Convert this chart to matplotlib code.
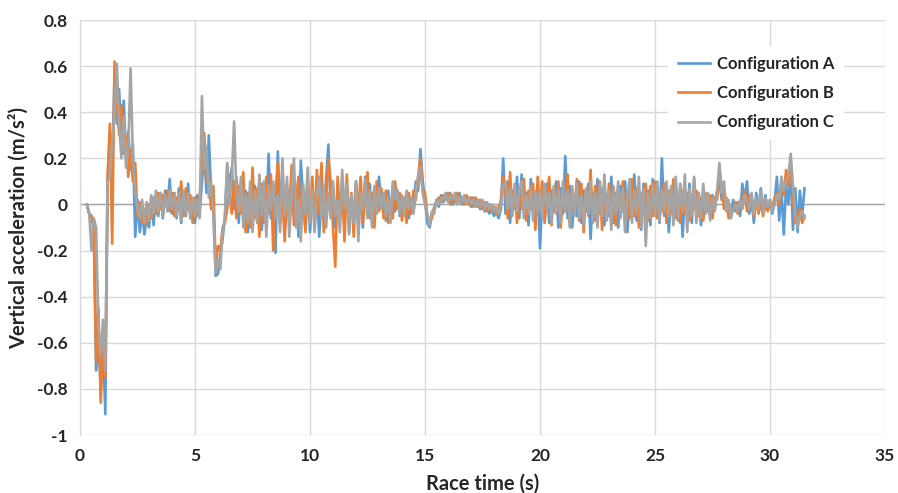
import numpy as np
import matplotlib
matplotlib.use("Agg")
import matplotlib.pyplot as plt

# Vertical acceleration sampled at 10 Hz, first sample at t = 0.3 s
t_start = 0.3
dt = 0.1

config_a = [
    0.00, -0.04, -0.05, -0.12, -0.72, -0.58, -0.80,
    -0.60, -0.91, 0.10, 0.32, 0.15, 0.55, 0.35, 0.50, 0.28, 0.45,
    0.20, 0.32, 0.15, 0.26, -0.14, 0.02, -0.12, -0.03, -0.13, -0.05,
    -0.10, 0.03, -0.09, 0.04, -0.05, 0.05, -0.06, 0.06, -0.02, 0.11,
    -0.04, 0.05, -0.06, 0.07, -0.08, 0.03, -0.05, 0.09, -0.06, 0.02,
    -0.08, 0.04, -0.05, 0.10, 0.22, 0.05, 0.30, 0.05, -0.02, -0.31,
    -0.30, -0.22, -0.15, -0.05, 0.17, 0.08, 0.16, -0.02, 0.12, -0.08,
    0.10, -0.05, 0.06, -0.12, 0.04, -0.06, 0.08, -0.04, 0.10, -0.11,
    0.06, -0.08, 0.22, -0.06, 0.05, -0.21, 0.23, -0.04, 0.15, -0.12,
    0.03, -0.08, 0.12, -0.05, 0.06, -0.14, 0.19, 0.02, -0.10, 0.08,
    -0.12, 0.05, -0.07, 0.10, -0.14, 0.04, -0.06, 0.11, 0.26, -0.03,
    0.08, -0.10, 0.05, -0.08, 0.12, -0.04, 0.06, -0.12, 0.03, -0.06,
    0.10, -0.05, 0.08, -0.10, 0.12, -0.02, 0.09, -0.08, 0.05, -0.04,
    0.12, -0.02, 0.04, -0.07, 0.06, -0.06, 0.08, -0.03, 0.06, -0.05,
    0.03, -0.04, 0.05, -0.06, 0.02, -0.03, 0.10, 0.06, 0.24, 0.10,
    0.02, -0.08, -0.10, -0.05, -0.02, 0.02, -0.01, 0.04, 0.01, 0.04,
    0.02, 0.05, 0.00, 0.04, 0.02, 0.05, 0.00, 0.03, 0.01, 0.03,
    -0.01, 0.03, 0.00, 0.02, -0.02, 0.01, -0.03, 0.00, -0.04, -0.02,
    -0.05, -0.03, -0.06, -0.02, 0.20, -0.04, 0.10, -0.08, 0.06, -0.02,
    0.12, -0.06, 0.13, -0.03, 0.05, -0.09, 0.11, -0.02, 0.03, 0.08,
    -0.19, 0.04, -0.06, 0.09, -0.08, 0.06, -0.03, 0.10, -0.10, 0.07,
    -0.04, 0.21, -0.06, 0.08, -0.10, 0.04, -0.05, 0.10, -0.08, 0.06,
    -0.03, 0.09, -0.15, 0.05, -0.07, 0.11, -0.04, 0.07, -0.09, 0.04,
    -0.05, 0.12, -0.08, 0.05, -0.10, 0.08, -0.03, 0.10, -0.12, 0.06,
    -0.05, 0.13, -0.07, 0.04, -0.11, 0.09, -0.04, 0.06, -0.09, 0.11,
    -0.02, 0.06, -0.08, 0.20, -0.05, 0.08, -0.12, 0.05, -0.04, 0.10,
    -0.07, 0.08, -0.14, 0.06, -0.05, 0.09, -0.08, 0.11, -0.03, 0.05,
    -0.09, 0.07, -0.04, 0.03, -0.06, 0.04, -0.02, 0.06, 0.10, 0.02,
    0.06, -0.02, 0.00, -0.05, 0.02, -0.03, 0.01, -0.05, 0.09, 0.02,
    0.10, -0.04, 0.03, -0.08, 0.05, -0.02, 0.07, -0.03, 0.04, -0.02,
    0.02, -0.04, 0.01, 0.12, -0.07, 0.06, -0.13, 0.08, 0.00, 0.15,
    -0.11, 0.07, -0.12, 0.06, -0.05, 0.07,
]

config_b = [
    0.00, -0.04, -0.05, -0.08, -0.68, -0.45, -0.86,
    -0.58, -0.75, 0.12, 0.35, -0.17, 0.62, 0.45, 0.30, 0.43, 0.22,
    0.30, 0.12, 0.24, 0.10, 0.18, -0.05, 0.01, -0.08, -0.02, -0.09,
    0.00, -0.06, 0.03, -0.04, 0.05, -0.02, 0.04, 0.00, 0.06, -0.03,
    0.05, -0.05, 0.03, -0.02, 0.10, -0.05, 0.07, -0.02, 0.04, -0.08,
    0.03, -0.05, 0.02, 0.20, 0.31, 0.10, 0.12, -0.02, 0.08, -0.28,
    -0.18, -0.20, -0.10, -0.08, -0.02, 0.06, -0.04, 0.10, -0.06, 0.08,
    -0.04, 0.14, -0.12, 0.05, -0.10, 0.16, -0.06, 0.07, -0.14, 0.09,
    -0.08, 0.12, -0.04, 0.13, -0.20, 0.05, 0.18, -0.08, 0.04, -0.16,
    0.08, -0.05, 0.17, -0.09, 0.03, 0.12, -0.10, 0.06, -0.12, 0.10,
    -0.06, 0.12, -0.10, 0.15, -0.04, 0.18, -0.12, 0.02, 0.20, 0.10,
    -0.10, -0.27, 0.12, -0.05, 0.08, -0.16, 0.13, -0.08, 0.05, -0.14,
    0.09, -0.04, 0.12, -0.08, 0.03, 0.14, -0.06, 0.05, -0.10, 0.10,
    -0.03, 0.07, -0.06, 0.06, -0.08, 0.02, -0.06, 0.10, -0.02, 0.05,
    -0.07, 0.03, -0.08, 0.05, -0.04, 0.06, 0.02, 0.12, 0.20, 0.07,
    0.05, -0.05, -0.07, -0.06, -0.01, 0.00, 0.03, 0.01, 0.04, 0.02,
    0.05, 0.00, 0.04, 0.01, 0.05, 0.01, 0.03, 0.00, 0.04, 0.00,
    0.03, -0.01, 0.03, -0.01, 0.02, -0.02, 0.01, -0.03, 0.00, -0.03,
    -0.01, -0.04, -0.02, 0.02, 0.12, 0.05, -0.06, 0.14, -0.04, 0.08,
    -0.08, 0.04, -0.02, 0.11, -0.07, 0.06, -0.02, 0.09, -0.11, 0.12,
    -0.02, 0.10, -0.08, 0.03, 0.12, -0.09, 0.07, -0.04, 0.10, -0.10,
    0.05, -0.03, 0.13, -0.09, 0.06, -0.04, 0.11, -0.07, 0.09, -0.12,
    0.06, -0.05, 0.15, -0.08, 0.08, -0.04, 0.10, -0.11, 0.05, -0.06,
    0.09, -0.03, 0.06, -0.09, 0.08, -0.05, 0.10, -0.08, 0.04, -0.06,
    0.11, -0.05, 0.07, -0.10, 0.05, -0.04, 0.09, -0.07, 0.08, -0.05,
    0.10, -0.06, 0.05, -0.03, 0.09, -0.08, 0.06, -0.04, 0.11, -0.06,
    0.04, -0.08, 0.06, -0.04, 0.05, -0.07, 0.04, -0.02, 0.06, -0.05,
    0.03, -0.07, 0.05, -0.03, 0.04, -0.06, 0.03, 0.02, 0.15, 0.08,
    -0.02, 0.03, -0.06, -0.03, -0.02, 0.01, -0.04, 0.00, 0.02, 0.06,
    -0.03, 0.04, -0.01, -0.05, 0.02, -0.04, 0.01, -0.05, 0.00, -0.03,
    0.01, -0.02, 0.03, 0.05, 0.00, 0.10, 0.04, 0.15, 0.08, 0.18,
    0.02, -0.08, -0.06, -0.02, -0.08, -0.05,
]

config_c = [
    0.00, -0.04, -0.20, -0.06, -0.10, -0.52, -0.66,
    -0.50, -0.72, 0.10, 0.12, 0.28, 0.40, 0.61, 0.35, 0.20, 0.38,
    0.16, 0.25, 0.59, 0.20, 0.06, -0.02, -0.06, 0.02, -0.08, 0.01,
    -0.07, 0.04, -0.04, 0.06, -0.03, 0.05, -0.05, 0.04, -0.03, 0.06,
    -0.02, 0.04, -0.05, 0.05, -0.07, 0.06, -0.04, 0.05, -0.06, 0.03,
    -0.05, 0.02, -0.06, 0.47, 0.15, 0.25, 0.03, 0.10, -0.05, -0.30,
    -0.24, -0.28, -0.12, -0.06, 0.18, 0.00, 0.12, 0.36, 0.05, -0.03,
    0.12, -0.10, 0.04, -0.08, 0.10, -0.12, 0.06, -0.08, 0.13, -0.05,
    0.10, -0.14, 0.08, -0.02, 0.10, -0.06, 0.04, -0.12, 0.20, -0.05,
    0.12, -0.14, 0.05, 0.20, -0.10, 0.02, -0.16, 0.09, -0.04, 0.16,
    -0.08, 0.06, -0.12, 0.04, 0.12, -0.06, 0.08, -0.10, 0.05, -0.06,
    0.10, -0.05, 0.02, -0.12, 0.15, -0.02, 0.09, -0.13, 0.04, -0.08,
    0.10, -0.16, 0.05, -0.02, 0.11, -0.06, 0.06, -0.10, 0.08, -0.04,
    0.07, -0.02, 0.05, -0.05, 0.03, -0.08, 0.10, 0.02, 0.06, -0.04,
    0.04, -0.05, 0.06, -0.02, 0.03, -0.04, 0.05, 0.12, 0.16, 0.05,
    0.00, -0.04, -0.09, -0.03, -0.04, 0.02, 0.00, 0.03, 0.02, 0.05,
    0.01, 0.04, 0.02, 0.05, 0.00, 0.03, 0.01, 0.04, 0.00, 0.03,
    0.00, 0.02, -0.01, 0.02, -0.01, 0.02, -0.02, 0.01, -0.02, 0.00,
    -0.03, -0.01, -0.04, 0.00, 0.08, 0.10, -0.02, 0.07, -0.05, 0.09,
    -0.03, 0.06, 0.10, -0.06, 0.04, -0.04, 0.08, -0.07, 0.05, -0.03,
    0.06, -0.06, 0.09, -0.02, 0.05, -0.08, 0.08, -0.04, 0.06, -0.08,
    0.10, -0.03, 0.06, -0.10, 0.08, -0.05, 0.09, -0.06, 0.04, -0.09,
    0.07, -0.04, 0.10, -0.08, 0.05, -0.10, 0.09, -0.05, 0.13, -0.07,
    0.06, -0.11, 0.08, -0.04, 0.10, -0.06, 0.07, -0.12, 0.04, 0.11,
    -0.08, 0.06, -0.04, 0.12, -0.10, 0.07, -0.18, 0.05, -0.06, 0.09,
    -0.05, 0.10, -0.07, 0.06, -0.03, 0.10, -0.05, 0.08, -0.09, 0.12,
    -0.06, 0.09, -0.03, 0.13, -0.12, 0.07, -0.05, 0.12, -0.08, 0.05,
    -0.06, 0.09, -0.04, 0.05, -0.07, 0.03, -0.03, 0.06, 0.18, 0.05,
    0.10, -0.03, 0.02, -0.06, -0.02, 0.00, -0.03, 0.02, -0.02, 0.04,
    0.01, -0.02, 0.05, -0.04, 0.03, -0.02, 0.06, -0.04, 0.03, -0.01,
    0.02, -0.03, 0.00, 0.04, 0.02, 0.12, 0.06, 0.10, 0.12, 0.22,
    0.08, -0.04, -0.10, -0.05, -0.03, -0.06,
]

series_names = ["Configuration A", "Configuration B", "Configuration C"]
series_colors = ["#5B9BD5", "#ED7D31", "#A5A5A5"]

x_ticks = [0, 5, 10, 15, 20, 25, 30, 35]
y_ticks = [-1.0, -0.8, -0.6, -0.4, -0.2, 0.0, 0.2, 0.4, 0.6, 0.8]
y_tick_labels = ["-1", "-0.8", "-0.6", "-0.4", "-0.2", "0", "0.2", "0.4", "0.6", "0.8"]

plt.rcParams["font.family"] = ["Lato", "DejaVu Sans"]

fig = plt.figure(figsize=(8.98, 4.93), dpi=100)
ax = fig.add_axes([0.0891, 0.1176, 0.8964, 0.8418])

for values, name, color in zip([config_a, config_b, config_c], series_names, series_colors):
    t = t_start + dt * np.arange(len(values))
    ax.plot(t, values, color=color, lw=1.9, label=name)

ax.set_xlim(0, 35)
ax.set_ylim(-1.0, 0.8)
ax.set_xticks(x_ticks)
ax.set_xticklabels([str(v) for v in x_ticks])
ax.set_yticks(y_ticks)
ax.set_yticklabels(y_tick_labels)

ax.grid(True, color="#D9D9D9", lw=1.0)
ax.set_axisbelow(True)
ax.axhline(0, color="#A6A6A6", lw=1.0, zorder=1.5)
for side in ["top", "right", "bottom"]:
    ax.spines[side].set_visible(False)
ax.spines["left"].set_color("#D9D9D9")
ax.spines["left"].set_linewidth(1.0)

ax.tick_params(axis="both", length=0, labelsize=12.5, labelcolor="#262626", pad=9)
for lab in ax.get_xticklabels() + ax.get_yticklabels():
    lab.set_fontweight("bold")

ax.set_xlabel("Race time (s)", fontsize=14.5, fontweight="bold", color="#262626", labelpad=7)
ax.set_ylabel("Vertical acceleration (m/s²)", fontsize=14.5, fontweight="bold", color="#262626", labelpad=6)

leg = ax.legend(loc="upper left", bbox_to_anchor=(0.72, 0.958), frameon=True,
                fancybox=False, edgecolor="none", facecolor="white", framealpha=1.0,
                handlelength=1.9, handletextpad=0.45, labelspacing=0.8, borderpad=0.6,
                prop={"weight": "bold", "size": 12})
for txt in leg.get_texts():
    txt.set_color("#262626")

fig.savefig("out.png", dpi=100, facecolor="white")
